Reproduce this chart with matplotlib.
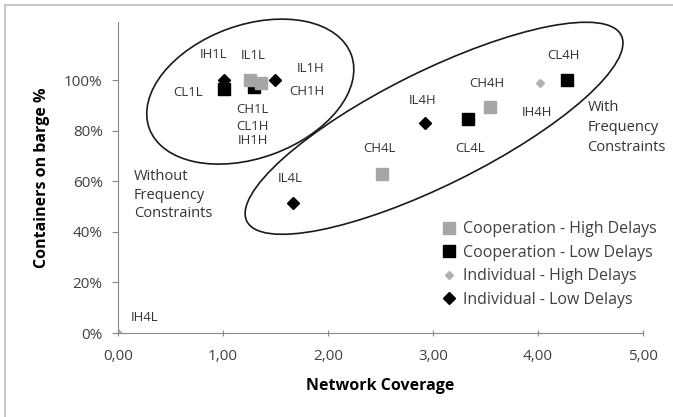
import matplotlib
matplotlib.use("Agg")
import matplotlib.pyplot as plt
from matplotlib.patches import Ellipse, Rectangle
from matplotlib.transforms import IdentityTransform
from matplotlib.ticker import FuncFormatter

plt.rcParams['font.family'] = ['Open Sans', 'DejaVu Sans']

# series: (network coverage, share of containers on barge)
ch_names = ["CH1L", "CH1H", "CH4L", "CH4H"]
ch_x = [1.26, 1.36, 2.51, 3.54]
ch_y = [1.00, 0.99, 0.63, 0.893]

cl_names = ["CL1L", "CL1H", "CL4L", "CL4H"]
cl_x = [1.01, 1.30, 3.33, 4.28]
cl_y = [0.965, 0.975, 0.846, 1.00]

ih_names = ["IH1L", "IH1H", "IH4L", "IH4H"]
ih_x = [1.01, 1.30, 0.00, 4.02]
ih_y = [0.97, 0.98, 0.00, 0.988]

il_names = ["IL1L", "IL1H", "IL4L", "IL4H"]
il_x = [1.01, 1.50, 1.67, 2.92]
il_y = [1.00, 1.00, 0.514, 0.83]

x_ticks = [0, 1, 2, 3, 4, 5]
y_ticks = [0, 0.2, 0.4, 0.6, 0.8, 1.0]

# label offsets in pixels (dx right, dy up)
label_offsets = {
    "IH1L": (-10, 33), "IL1L": (29, 25), "CL1L": (-36, -3),
    "CH1L": (2, -29), "CL1H": (-2, -40), "IH1H": (-2, -55),
    "IL1H": (35, 12), "CH1H": (46, -9),
    "IL4L": (-3, 25), "CH4L": (-2, 25), "IL4H": (-2, 23),
    "CL4L": (2, -29), "CH4H": (-3, 24), "CL4H": (-4, 25),
    "IH4H": (-3, -29), "IH4L": (27, 16),
}

fig = plt.figure(figsize=(6.73, 4.17), dpi=100)
ax = fig.add_axes([0.1753, 0.2014, 0.7801, 0.7456])

ax.plot(ih_x, ih_y, 'D', color='#b0b0b0', ms=4.5, ls='none', label='Individual - High Delays', zorder=2.5)
ax.plot(cl_x, cl_y, 's', color='black', ms=9.2, ls='none', label='Cooperation - Low Delays', zorder=3)
ax.plot(ch_x, ch_y, 's', color='#a6a6a6', ms=8.8, ls='none', label='Cooperation - High Delays', zorder=4)
ax.plot(il_x, il_y, 'D', color='black', ms=5.8, ls='none', label='Individual - Low Delays', zorder=6)

for names, xs, ys in [(ch_names, ch_x, ch_y), (cl_names, cl_x, cl_y),
                      (ih_names, ih_x, ih_y), (il_names, il_x, il_y)]:
    for n, x, y in zip(names, xs, ys):
        dx, dy = label_offsets[n]
        ax.annotate(n, (x, y), xytext=(dx, dy), textcoords='offset pixels',
                    ha='center', va='center', fontsize=9.5, color='#333333')

ax.set_xlim(0, 5)
ax.set_ylim(0, 1.23)
ax.set_xticks(x_ticks)
ax.set_yticks(y_ticks)
ax.xaxis.set_major_formatter(FuncFormatter(lambda v, p: f"{v:.2f}".replace('.', ',')))
ax.yaxis.set_major_formatter(FuncFormatter(lambda v, p: f"{v*100:.0f}%"))
ax.tick_params(axis='x', direction='inout', length=5, color='#888888', labelsize=11,
               labelcolor='#404040', pad=9)
ax.tick_params(axis='y', direction='out', length=4, color='#888888', labelsize=11,
               labelcolor='#404040', pad=7)
for s in ['top', 'right']:
    ax.spines[s].set_visible(False)
for s in ['left', 'bottom']:
    ax.spines[s].set_color('#888888')

ax.set_xlabel("Network Coverage", fontsize=11.5, fontweight='bold', labelpad=10)
ax.set_ylabel("Containers on barge %", fontsize=11.5, fontweight='bold', labelpad=10)

# grouping ellipses (centre in data units, size in pixels)
for cx, cy, w, h, ang in [(1.26, 0.955, 215, 133, 20), (3.01, 0.81, 418, 114, 26.4)]:
    px, py = ax.transData.transform((cx, cy))
    e = Ellipse((px, py), w, h, angle=ang, fill=False, lw=1.2, ec='#1a1a1a', zorder=2)
    e.set_transform(IdentityTransform())
    fig.add_artist(e)

ax.text(0.15, 0.545, "Without\nFrequency\nConstraints", fontsize=10.5, color='#333333',
        va='center', ha='left', linespacing=1.3)
ax.text(4.47, 0.814, "With\nFrequency\nConstraints", fontsize=10.5, color='#333333',
        va='center', ha='left', linespacing=1.45)

handles, labels = ax.get_legend_handles_labels()
order = [2, 1, 0, 3]
ax.legend([handles[i] for i in order], [labels[i] for i in order], loc='upper left',
          bbox_to_anchor=(0.60, 0.385), frameon=False, fontsize=11.5, handletextpad=0.4,
          labelspacing=0.47, handlelength=1.0, borderpad=0, labelcolor='#404040')

fig.add_artist(Rectangle((5 / 673, -0.1), 1.2, 1 - 5 / 417 + 0.1, transform=fig.transFigure,
                         fill=False, ec='#c8c8c8', lw=1.5))

fig.savefig("out.png", dpi=100)
